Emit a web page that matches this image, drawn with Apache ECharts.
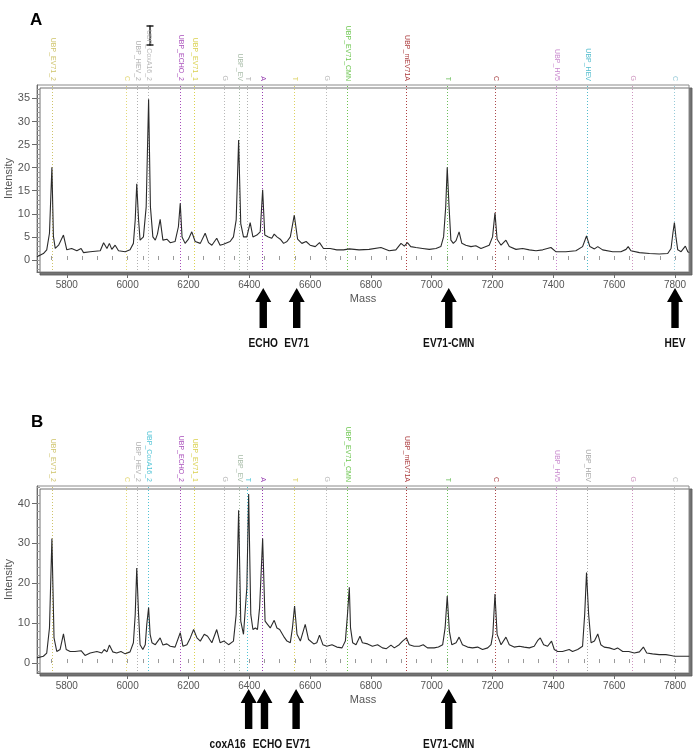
<!DOCTYPE html>
<html>
<head>
<meta charset="utf-8">
<script src="https://cdn.jsdelivr.net/npm/echarts@6/dist/echarts.min.js"></script>
<style>
html,body{margin:0;padding:0;background:#fff;}
#chart{width:699px;height:752px;}
</style>
</head>
<body>
<div id="chart"></div>
<script>
// ---------- DATA ----------
const massA = [5702,5723,5734,5743,5751,5756,5762,5773,5789,5800,5816,5833,5847,5855,5877,5910,5921,5932,5940,5948,5959,5970,5992,6008,6019,6025,6030,6036,6041,6052,6061,6069,6075,6083,6091,6098,6107,6116,6129,6140,6156,6167,6173,6179,6189,6200,6211,6222,6239,6255,6266,6277,6293,6304,6315,6337,6348,6357,6365,6372,6381,6392,6403,6412,6425,6436,6444,6451,6463,6474,6482,6491,6502,6513,6524,6535,6548,6559,6573,6587,6600,6617,6631,6644,6666,6688,6710,
6729,6761,6794,6833,6860,6882,6899,6910,6920,6931,6948,6970,6992,7014,7030,7039,7046,7051,7057,7063,7071,7080,7090,7099,7112,7129,7145,7162,7189,7200,7208,7215,7228,7244,7255,7277,7299,7321,7343,7365,7392,7408,7441,7474,7496,7509,7520,7535,7546,7562,7595,7622,7639,7646,7655,7683,7716,7748,7776,7787,7793,7798,7803,7809,7820,7834,7842,7847];
const intA = [0.7,1.4,2.2,5.8,20.1,5.1,2.5,3.2,5.4,2.2,2.5,2.0,2.5,1.6,1.8,2.0,3.75,2.5,3.6,2.3,3.2,2.0,1.8,2.2,3.6,8.7,16.5,8.7,4.3,5.0,11.5,34.8,11.5,5.0,4.3,5.6,8.8,4.3,4.5,3.75,4.0,7.2,12.3,5.0,3.6,4.5,6.1,4.0,3.6,5.8,3.75,3.2,4.7,3.2,3.4,4.0,5.0,8.7,26.0,7.9,5.0,5.0,8.1,5.0,5.4,6.1,15.2,5.4,5.0,4.7,5.6,5.0,4.5,3.6,4.0,5.0,9.7,4.5,3.6,4.0,3.2,2.9,3.75,2.5,2.5,2.2,2.2,
2.4,2.2,2.3,2.7,2.0,2.2,3.6,3.0,3.75,2.9,2.7,2.5,2.3,2.5,2.9,5.0,11.5,20.1,11.5,4.3,3.6,4.2,6.1,3.6,3.2,2.9,3.1,2.5,3.2,5.0,10.2,4.5,3.2,4.3,2.9,2.3,2.5,2.2,2.0,2.2,2.7,1.8,1.8,2.0,2.9,5.2,2.9,2.4,2.9,2.2,1.8,1.8,2.3,2.9,2.0,1.6,1.4,1.3,1.4,2.5,5.8,8.1,5.0,2.2,1.8,3.0,1.8,1.6];

const massB = [5702,5723,5734,5743,5751,5758,5767,5778,5789,5798,5811,5827,5847,5860,5877,5899,5915,5923,5932,5940,5951,5964,5978,5992,6008,6019,6025,6030,6036,6041,6050,6058,6063,6069,6074,6080,6091,6107,6116,6129,6140,6156,6173,6182,6195,6206,6217,6228,6239,6252,6263,6277,6293,6304,6317,6332,6348,6357,6365,6372,6381,6387,6392,6398,6405,6412,6420,6427,6434,6444,6452,6460,6469,6482,6491,6500,6513,6524,6535,6542,6549,6557,6568,6584,6595,6612,6622,6631,6642,6655,6672,6688,6705,6716,6723,
6729,6733,6740,6751,6764,6772,6789,6805,6822,6838,6851,6866,6877,6893,6904,6917,6926,6942,6959,6972,6986,7008,7022,7036,7044,7051,7058,7066,7080,7090,7101,7118,7134,7151,7167,7184,7195,7201,7208,7215,7228,7244,7255,7271,7288,7304,7321,7337,7348,7357,7368,7381,7394,7403,7414,7430,7452,7463,7480,7496,7503,7509,7516,7524,7535,7546,7556,7567,7584,7600,7611,7628,7648,7666,7683,7696,7707,7726,7748,7770,7787,7798,7847];
const intB = [1.3,1.7,2.5,8.8,31.2,6.3,2.9,3.4,7.3,3.4,2.9,2.9,3.1,1.9,2.5,2.9,2.5,3.4,2.8,4.5,2.8,2.5,2.9,2.3,2.8,5.1,12.2,23.8,12.2,4.6,3.4,4.6,9.7,13.9,7.2,5.1,4.6,6.3,4.5,4.8,4.2,4.0,7.6,4.2,4.6,6.3,8.4,6.3,5.5,7.2,6.7,5.1,8.4,5.1,5.5,4.6,5.5,12.2,38.3,10.5,7.2,7.6,18.9,42.4,12.2,8.4,8.8,8.4,13.9,31.2,10.5,9.7,8.8,10.7,8.8,8.4,6.7,5.5,5.1,8.8,14.3,7.2,5.5,9.7,5.9,4.8,5.1,7.0,4.6,4.2,4.6,4.0,3.8,5.5,12.2,
19.0,8.8,5.1,4.6,6.7,5.1,4.8,4.2,4.6,3.8,3.6,4.5,3.8,4.6,5.5,6.3,4.6,4.2,4.2,4.6,3.8,3.8,4.0,4.6,8.8,16.8,8.0,4.6,5.1,6.5,4.6,4.0,3.8,4.0,3.4,3.8,4.6,7.2,17.3,7.2,4.6,6.5,4.6,4.0,4.2,4.0,3.8,4.2,5.6,6.3,4.6,4.2,5.5,3.4,2.9,2.9,3.4,2.9,3.4,4.2,12.2,22.7,12.2,5.1,5.5,7.3,4.6,4.0,3.8,3.4,3.8,2.9,2.9,2.5,2.8,4.0,2.5,2.3,2.1,2.1,1.9,1.7,1.7];

const markerMass = [5751,5995,6030,6068,6173,6219,6317,6366,6393,6441,6548,6653,6721,6917,7049,7207,7410,7509,7660,7797];
const markerLabel = ['UBP_EV71_2','C','UBP_HEV_2','UBP_CoxA16_2','UBP_ECHO_2','UBP_EV71_1','G','UBP_EV','T','A','T','G','UBP_EV71_CMN','UBP_mEV71A','T','C','UBP_HV5','UBP_HEV','G','C'];
const markerColorA = ['#c9bd5a','#e0d468','#a8a8a8','#b0b0b0','#a03cb4','#d6cc3c','#b0b0b0','#9fb59f','#a8a8a8','#8c2aa8','#d8cc50','#b4b4b4','#5cbf3c','#a3282a','#5cb84a','#a3363a','#c27ac8','#3fb5c8','#c88ab8','#8cc4d4'];
const markerColorB = ['#c9bd5a','#e0d468','#a8a8a8','#3cbcd0','#a03cb4','#d6cc3c','#b0b0b0','#9fb59f','#3cbcd0','#8c2aa8','#d8cc50','#b4b4b4','#5cbf3c','#a3282a','#5cb84a','#a3363a','#c27ac8','#a0a0a0','#c88ab8','#b8b8b8'];

const arrowMassA = [6446,6556,7056,7800];
const arrowLabelA = ['ECHO','EV71','EV71-CMN','HEV'];
const arrowMassB = [6398,6450,6554,7056];
const arrowLabelB = ['coxA16','ECHO','EV71','EV71-CMN'];

const xTicks = [5800,6000,6200,6400,6600,6800,7000,7200,7400,7600,7800];
const xMinorTicks = [5750,5800,5850,5900,5950,6000,6050,6100,6150,6200,6250,6300,6350,6400,6450,6500,6550,6600,6650,6700,6750,6800,6850,6900,6950,7000,7050,7100,7150,7200,7250,7300,7350,7400,7450,7500,7550,7600,7650,7700,7750,7800];
const yTicksA = [0,5,10,15,20,25,30,35];
const yMinorA = [-2,-1,0,1,2,3,4,5,6,7,8,9,10,11,12,13,14,15,16,17,18,19,20,21,22,23,24,25,26,27,28,29,30,31,32,33,34,35,36,37];
const yTicksB = [0,10,20,30,40];
const yMinorB = [-2,0,2,4,6,8,10,12,14,16,18,20,22,24,26,28,30,32,34,36,38,40,42,44];

const xRange = [5702, 7846];
const yRangeA = [-2.6, 37.9];
const yRangeB = [-2.5, 44.4];

// ---------- CHART ----------
const chart = echarts.init(document.getElementById('chart'), null, {renderer:'canvas'});
const tickFont = 'Liberation Sans';
const axisGray = '#6a6a6a';

function grid(top){
  return {left:37, right:10, top:top, height:187, show:true, backgroundColor:'#fff',
    outerBoundsMode:'none', containLabel:false,
    borderColor:'#8a8a8a', borderWidth:1, shadowColor:'rgba(90,90,90,0.85)', shadowBlur:0, shadowOffsetX:3, shadowOffsetY:3};
}
function plain(v){ return String(v); }
function xAxes(gi){
  return [
    {type:'value', gridIndex:gi, min:xRange[0], max:xRange[1], name:'Mass', nameLocation:'middle', nameGap:21,
     nameMoveOverlap:false,
     nameTextStyle:{color:'#555', fontFamily:tickFont, fontSize:11},
     axisLine:{show:true, onZero:false, lineStyle:{color:axisGray}},
     axisTick:{show:true, customValues:xTicks, length:6, lineStyle:{color:axisGray}},
     axisLabel:{customValues:xTicks, formatter:plain, color:'#555', fontFamily:tickFont, fontSize:10, margin:8},
     splitLine:{show:false}},
    {type:'value', gridIndex:gi, min:xRange[0], max:xRange[1], position:'bottom',
     axisLine:{show:false}, axisLabel:{show:false}, splitLine:{show:false},
     axisTick:{show:true, inside:true, customValues:xMinorTicks, length:4, lineStyle:{color:'#9a9a9a'}}}
  ];
}
function yAxes(gi, rng, ticks, minor){
  return [
    {type:'value', gridIndex:gi, min:rng[0], max:rng[1], name:'Intensity', nameLocation:'middle', nameGap:23,
     nameMoveOverlap:false,
     nameTextStyle:{color:'#555', fontFamily:tickFont, fontSize:11},
     axisLine:{show:true, onZero:false, lineStyle:{color:axisGray}},
     axisTick:{show:true, customValues:ticks, length:5, lineStyle:{color:axisGray}},
     axisLabel:{customValues:ticks, formatter:plain, color:'#555', fontFamily:tickFont, fontSize:11, margin:7},
     splitLine:{show:false}},
    {type:'value', gridIndex:gi, min:rng[0], max:rng[1], position:'left',
     axisLine:{show:false}, axisLabel:{show:false}, splitLine:{show:false},
     axisTick:{show:true, inside:true, customValues:minor, length:3, lineStyle:{color:'#9a9a9a'}}}
  ];
}

function markerSeries(xi, yi, rng, colors){
  return {
    type:'custom', xAxisIndex:xi, yAxisIndex:yi, clip:false, silent:true, z:1,
    data: markerMass.map(function(m){return [m];}),
    renderItem: function(params, api){
      const i = params.dataIndex;
      const pb = api.coord([api.value(0), rng[0]]);
      const pt = api.coord([api.value(0), rng[1]]);
      const x = Math.round(pb[0]) + 0.5;
      const c = colors[i];
      return {type:'group', children:[
        {type:'line', shape:{x1:x, y1:pt[1]+1, x2:x, y2:pb[1]-1}, style:{stroke:c, lineWidth:1, lineDash:[1,2], opacity:0.9}},
        {type:'text', x:x, y:pt[1]-4, rotation:-Math.PI/2,
         style:{text:markerLabel[i], fill:c, font:'7px "Liberation Sans"', align:'right', verticalAlign:'middle', opacity:0.9}}
      ]};
    }
  };
}

function arrowSeries(xi, yi, rng, masses, labels, dx, aligns){
  return {
    type:'custom', xAxisIndex:xi, yAxisIndex:yi, clip:false, silent:true, z:5,
    data: masses.map(function(m){return [m];}),
    renderItem: function(params, api){
      const i = params.dataIndex;
      const p = api.coord([api.value(0), rng[0]]);
      const x = p[0], y0 = p[1];
      const al = aligns ? aligns[i] : 'center';
      const tx = x + (dx ? dx[i] : 0);
      return {type:'group', children:[
        {type:'polygon', shape:{points:[[x,y0+16],[x-8,y0+30],[x-3.7,y0+30],[x-3.7,y0+56],[x+3.7,y0+56],[x+3.7,y0+30],[x+8,y0+30]]},
         style:{fill:'#000'}},
        {type:'text', x:tx, y:y0+71, scaleX:0.78,
         style:{text:labels[i], fill:'#111', font:'bold 13px "Liberation Sans"', align:al, verticalAlign:'middle'}}
      ]};
    }
  };
}

function specSeries(xi, yi, mass, inten){
  return {type:'line', xAxisIndex:xi, yAxisIndex:yi, z:3, showSymbol:false, symbol:'none',
    lineStyle:{color:'#2b2b2b', width:1.1}, animation:false,
    data: mass.map(function(m, k){return [m, inten[k]];})};
}

const option = {
  backgroundColor:'#fff',
  animation:false,
  grid:[grid(85), grid(486)],
  xAxis: xAxes(0).concat(xAxes(1)),
  yAxis: yAxes(0, yRangeA, yTicksA, yMinorA).concat(yAxes(1, yRangeB, yTicksB, yMinorB)),
  graphic:[
    {type:'text', left:30, top:12, style:{text:'A', font:'bold 17px "Liberation Sans"', fill:'#000'}},
    {type:'text', left:31, top:414, style:{text:'B', font:'bold 17px "Liberation Sans"', fill:'#000'}},
    {type:'group', left:144, top:23, children:[
      {type:'line', shape:{x1:4.5,y1:0,x2:4.5,y2:20}, style:{stroke:'#111', lineWidth:1.4}},
      {type:'line', shape:{x1:1,y1:0.5,x2:8,y2:0.5}, style:{stroke:'#111', lineWidth:1.4}},
      {type:'line', shape:{x1:1,y1:19.5,x2:8,y2:19.5}, style:{stroke:'#111', lineWidth:1.4}}
    ]}
  ],
  series:[
    markerSeries(0, 0, yRangeA, markerColorA),
    specSeries(0, 0, massA, intA),
    arrowSeries(0, 0, yRangeA, arrowMassA, arrowLabelA, null, null),
    markerSeries(2, 2, yRangeB, markerColorB),
    specSeries(2, 2, massB, intB),
    arrowSeries(2, 2, yRangeB, arrowMassB, arrowLabelB, [-3, 3, 2, 0], ['right','center','center','center'])
  ]
};
chart.setOption(option);
</script>
</body>
</html>
